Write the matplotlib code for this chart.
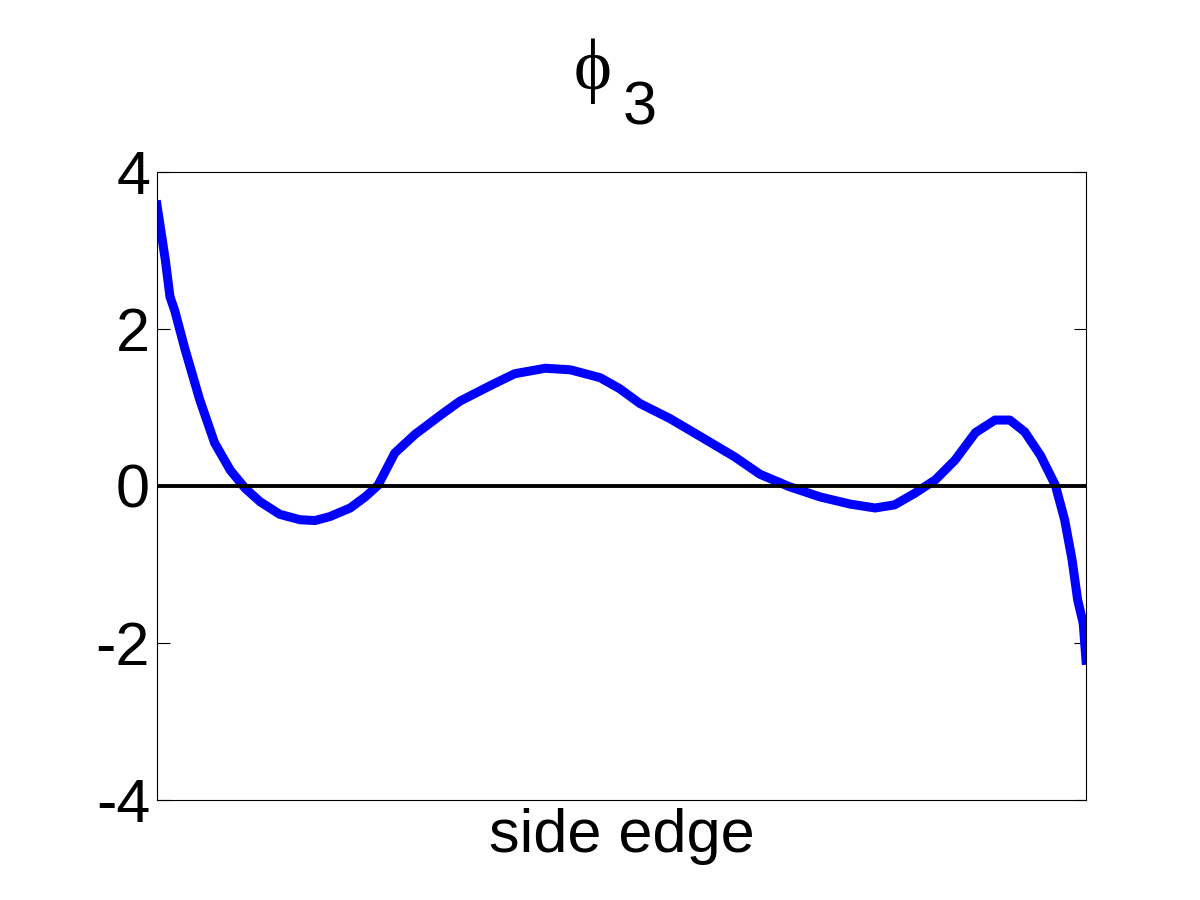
import numpy as np
import matplotlib.pyplot as plt

plt.rcParams['font.family'] = ['Liberation Sans', 'DejaVu Sans']
plt.rcParams['axes.unicode_minus'] = False

# position along the side edge (normalised) and mode value
edge_pos = [0.000, 0.009, 0.014, 0.019, 0.030, 0.046, 0.062, 0.079, 0.095, 0.111,
            0.132, 0.154, 0.170, 0.186, 0.208, 0.224, 0.238, 0.256, 0.278, 0.305,
            0.326, 0.359, 0.385, 0.418, 0.445, 0.477, 0.498, 0.520, 0.552, 0.585,
            0.622, 0.649, 0.681, 0.714, 0.746, 0.773, 0.794, 0.816, 0.838, 0.859,
            0.881, 0.902, 0.918, 0.934, 0.951, 0.967, 0.977, 0.985, 0.991, 0.997,
            1.000]
phi3 = [3.58, 2.88, 2.41, 2.24, 1.75, 1.10, 0.55, 0.20, -0.03, -0.20,
        -0.36, -0.43, -0.44, -0.39, -0.28, -0.14, 0.01, 0.42, 0.66, 0.90,
        1.08, 1.28, 1.43, 1.50, 1.48, 1.38, 1.24, 1.05, 0.86, 0.63,
        0.37, 0.15, -0.01, -0.14, -0.23, -0.28, -0.24, -0.09, 0.08, 0.33,
        0.68, 0.84, 0.84, 0.69, 0.39, 0.01, -0.43, -0.94, -1.45, -1.75,
        -2.22]

fig = plt.figure(figsize=(12, 9), dpi=100)
ax = fig.add_axes([0.1308, 0.1111, 0.7742, 0.6978])

ax.plot(edge_pos, phi3, color='#0000ff', lw=6.5, solid_joinstyle='round')
ax.axhline(0, color='black', lw=2.8)

ax.set_xlim(0, 1)
ax.set_ylim(-4, 4)
ax.set_yticks([-4, -2, 0, 2, 4])
ax.set_xticks([])
ax.tick_params(axis='y', direction='in', length=9, width=0.8, right=True,
               labelsize=44, pad=5)
for s in ax.spines.values():
    s.set_linewidth(0.8)

ax.set_xlabel('side edge', fontsize=44, labelpad=6)

# title: phi with subscript 3
fig.text(0.51, 0.901, '\u03d5', fontsize=52, ha='right', va='baseline',
         family=['Liberation Serif', 'DejaVu Serif'])
fig.text(0.519, 0.862, '3', fontsize=44, ha='left', va='baseline')

fig.savefig('out.png', dpi=100, facecolor='white')
